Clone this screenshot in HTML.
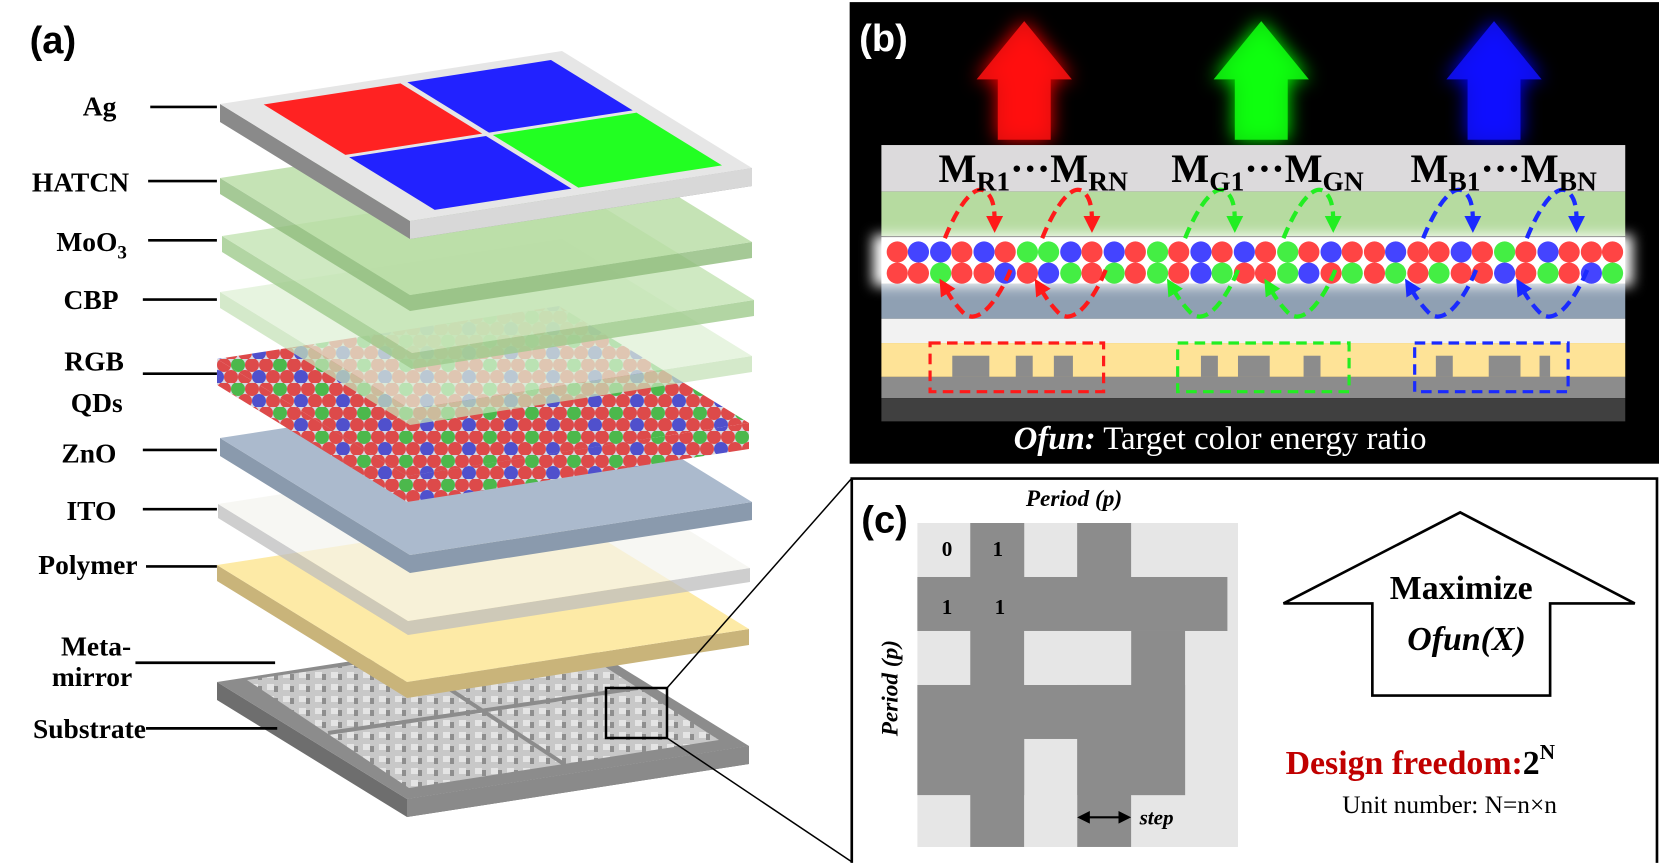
<!DOCTYPE html>
<html><head><meta charset="utf-8"><style>
html,body{margin:0;padding:0;background:#fff;}
svg{display:block;}
.lab{font-family:"Liberation Serif",serif;font-weight:bold;font-size:26px;fill:#000;}
</style></head><body>
<svg width="1659" height="866" viewBox="0 0 1659 866" xmlns="http://www.w3.org/2000/svg">
<defs>
<pattern id="qd" patternUnits="userSpaceOnUse" width="42" height="24">
<rect width="42" height="24" fill="#d8d8e0"/>
<circle cx="7" cy="6" r="7" fill="#dd4a4a"/><circle cx="21" cy="6" r="7" fill="#4cb84c"/><circle cx="35" cy="6" r="7" fill="#dd4a4a"/>
<circle cx="0" cy="18" r="7" fill="#5050cc"/><circle cx="14" cy="18" r="7" fill="#dd4a4a"/><circle cx="28" cy="18" r="7" fill="#dd4a4a"/><circle cx="42" cy="18" r="7" fill="#5050cc"/>
</pattern>
<pattern id="meta" patternUnits="userSpaceOnUse" width="16" height="12">
<rect width="16" height="12" fill="#c8c8c8"/><rect x="2" y="2" width="7" height="6" fill="#e4e4e4"/><rect x="9" y="4" width="4" height="6" fill="#8e8e8e"/>
</pattern>
<filter id="glow" x="-50%" y="-50%" width="200%" height="200%"><feGaussianBlur stdDeviation="9"/></filter>
<filter id="glow2" x="-10%" y="-80%" width="120%" height="260%"><feGaussianBlur stdDeviation="6"/></filter>
<marker id="ar" viewBox="0 0 10 10" refX="5" refY="5" markerWidth="4" markerHeight="4" orient="auto"><path d="M0,0L10,5L0,10z" fill="#ff1a1a"/></marker>
<marker id="ag" viewBox="0 0 10 10" refX="5" refY="5" markerWidth="4" markerHeight="4" orient="auto"><path d="M0,0L10,5L0,10z" fill="#22ee22"/></marker>
<marker id="ab" viewBox="0 0 10 10" refX="5" refY="5" markerWidth="4" markerHeight="4" orient="auto"><path d="M0,0L10,5L0,10z" fill="#1a2aff"/></marker>
<marker id="ak" viewBox="0 0 10 10" refX="5" refY="5" markerWidth="6" markerHeight="6" orient="auto-start-reverse"><path d="M0,0L10,5L0,10z" fill="#000"/></marker>
</defs>

<!-- substrate -->
<g transform="translate(217,682)">
<polygon points="0,0 190,117 532,64 532,82 190,135 0,18" fill="#6e6e6e"/>
<polygon points="190,117 532,64 532,82 190,135" fill="#8a8a8a"/>
<polygon points="0,0 342,-53 532,64 190,117" fill="#8c8c8c"/>
<polygon points="30,-2 340,-46 502,58 192,106" fill="url(#meta)"/>
<line x1="185" y1="-24" x2="347" y2="82" stroke="#8c8c8c" stroke-width="4"/>
<line x1="111" y1="51" x2="421" y2="6" stroke="#8c8c8c" stroke-width="4"/>
</g>
<!-- polymer -->
<g transform="translate(217,565)">
<polygon points="0,0 190,117 532,64 532,80 190,133 0,16" fill="#c9b47a"/>
<polygon points="0,0 342,-53 532,64 190,117" fill="#fdeaa6"/>
</g>
<!-- ITO -->
<g transform="translate(218,504)">
<polygon points="0,0 190,117 532,64 532,78 190,131 0,14" fill="#bdbdbd" opacity="0.75"/>
<polygon points="0,0 342,-53 532,64 190,117" fill="#f3f3ee" opacity="0.7"/>
</g>
<!-- ZnO -->
<g transform="translate(220,438)">
<polygon points="0,0 190,117 532,64 532,82 190,135 0,18" fill="#8a9aad"/>
<polygon points="0,0 342,-53 532,64 190,117" fill="#abbacd"/>
</g>
<!-- QDs -->
<g transform="translate(217,359)">
<polygon points="0,0 190,117 532,64 532,90 190,143 0,26" fill="url(#qd)"/>
<polygon points="0,0 342,-53 532,64 190,117" fill="url(#qd)"/>
</g>
<!-- CBP -->
<g transform="translate(220,292)">
<polygon points="0,0 190,117 532,64 532,80 190,133 0,16" fill="#c6e2b8" opacity="0.75"/>
<polygon points="0,0 342,-53 532,64 190,117" fill="#dff0d6" opacity="0.75"/>
</g>
<!-- MoO3 -->
<g transform="translate(222,236)">
<polygon points="0,0 190,117 532,64 532,80 190,133 0,16" fill="#9fcb8c" opacity="0.8"/>
<polygon points="0,0 342,-53 532,64 190,117" fill="#c3e3b3" opacity="0.8"/>
</g>
<!-- HATCN -->
<g transform="translate(220,178)">
<polygon points="0,0 190,117 532,64 532,80 190,133 0,16" fill="#8fbb7c" opacity="0.8"/>
<polygon points="0,0 342,-53 532,64 190,117" fill="#b6dca3" opacity="0.8"/>
</g>
<!-- Ag -->
<g transform="translate(220,104)">
<polygon points="0,0 190,117 532,64 532,82 190,135 0,18" fill="#8a8a8a"/>
<polygon points="190,117 532,64 532,82 190,135" fill="#d8d8d8"/>
<polygon points="0,0 342,-53 532,64 190,117" fill="#e6e6e6"/>
<g transform="matrix(342,-53,190,117,0,0)">
<rect x="0.1" y="0.05" width="0.4" height="0.43" fill="#ff2222"/>
<rect x="0.52" y="0.05" width="0.42" height="0.43" fill="#2222ff"/>
<rect x="0.1" y="0.5" width="0.4" height="0.45" fill="#2222ff"/>
<rect x="0.52" y="0.5" width="0.42" height="0.45" fill="#22ff22"/>
</g>
</g>
<!-- zoom box & lines -->
<rect x="606" y="688" width="61" height="50" fill="none" stroke="#000" stroke-width="2.5"/>
<line x1="667" y1="688" x2="852" y2="478" stroke="#000" stroke-width="1.5"/>
<line x1="667" y1="738" x2="852" y2="862" stroke="#000" stroke-width="1.5"/>

<g transform="scale(1.0581,1.0587)">
<text x="28" y="50" font-family="Liberation Sans,sans-serif" font-weight="bold" font-size="36">(a)</text>
<g class="lab" text-anchor="end">
<text x="110" y="109">Ag</text>
<text x="122" y="181">HATCN</text>
<text x="120" y="237">MoO<tspan font-size="18" dy="7">3</tspan></text>
<text x="112" y="292">CBP</text>
<text x="117" y="350">RGB</text>
<text x="116" y="389">QDs</text>
<text x="110" y="437">ZnO</text>
<text x="110" y="491">ITO</text>
<text x="130" y="542">Polymer</text>
<text x="124" y="619">Meta-</text>
<text x="125" y="648">mirror</text>
<text x="138" y="697">Substrate</text>
</g>
<g stroke="#000" stroke-width="2.5">
<line x1="142" y1="101" x2="205" y2="101"/>
<line x1="140" y1="171" x2="205" y2="171"/>
<line x1="140" y1="227" x2="205" y2="227"/>
<line x1="135" y1="283" x2="205" y2="283"/>
<line x1="135" y1="353" x2="205" y2="353"/>
<line x1="135" y1="425" x2="205" y2="425"/>
<line x1="135" y1="481" x2="205" y2="481"/>
<line x1="138" y1="535" x2="205" y2="535"/>
<line x1="128" y1="626" x2="260" y2="626"/>
<line x1="138" y1="688" x2="262" y2="688"/>
</g>

<!-- ===== Panel (b) ===== -->
<rect x="803" y="2" width="765" height="436" fill="#000"/>
<text x="812" y="48" font-family="Liberation Sans,sans-serif" font-weight="bold" font-size="36" fill="#fff">(b)</text>
<g>
<polygon points="923,75 968,20 1013,75 993,75 993,132 943,132 943,75" fill="#ff0000" filter="url(#glow)"/>
<polygon points="923,75 968,20 1013,75 993,75 993,132 943,132 943,75" fill="#ff1010" opacity="0.85"/>
<polygon points="1147,75 1192,20 1237,75 1217,75 1217,132 1167,132 1167,75" fill="#00ff00" filter="url(#glow)"/>
<polygon points="1147,75 1192,20 1237,75 1217,75 1217,132 1167,132 1167,75" fill="#10ff10" opacity="0.85"/>
<polygon points="1367,75 1412,20 1457,75 1437,75 1437,132 1387,132 1387,75" fill="#0000ff" filter="url(#glow)"/>
<polygon points="1367,75 1412,20 1457,75 1437,75 1437,132 1387,132 1387,75" fill="#1010ff" opacity="0.85"/>
</g>
<rect x="833" y="137" width="703" height="44" fill="#dcdadc"/>
<rect x="833" y="181" width="703" height="42" fill="#b6dba0"/>
<rect x="833" y="268" width="703" height="33" fill="#8fa0b3"/>
<rect x="833" y="301" width="703" height="23" fill="#f2f2f2"/>
<rect x="833" y="324" width="703" height="32" fill="#fee397"/>
<rect x="833" y="356" width="703" height="20" fill="#8c8c8c"/>
<rect x="833" y="376" width="703" height="22" fill="#404040"/>
<rect x="825" y="222" width="718" height="48" fill="#fff" filter="url(#glow2)"/>
<rect x="833" y="224" width="703" height="44" fill="#fff"/>
<g fill="#8c8c8c">
<rect x="900" y="336" width="35" height="20"/><rect x="960" y="336" width="16" height="20"/><rect x="996" y="336" width="18" height="20"/>
<rect x="1135" y="336" width="16" height="20"/><rect x="1170" y="336" width="30" height="20"/><rect x="1232" y="336" width="16" height="20"/>
<rect x="1357" y="336" width="16" height="20"/><rect x="1407" y="336" width="30" height="20"/><rect x="1455" y="336" width="10" height="20"/>
</g>
<g fill="none" stroke-width="3" stroke-dasharray="10,6">
<rect x="879" y="324" width="164" height="46" stroke="#ff1a1a"/>
<rect x="1113" y="324" width="162" height="46" stroke="#22ee22"/>
<rect x="1337" y="324" width="145" height="46" stroke="#1a2aff"/>
</g>
<g>
<circle cx="848" cy="238" r="10" fill="#ff4444"/><circle cx="868" cy="238" r="10" fill="#4444ff"/><circle cx="889" cy="238" r="10" fill="#4444ff"/><circle cx="909" cy="238" r="10" fill="#ff4444"/><circle cx="930" cy="238" r="10" fill="#4444ff"/><circle cx="950" cy="238" r="10" fill="#ff4444"/><circle cx="971" cy="238" r="10" fill="#44ee44"/><circle cx="991" cy="238" r="10" fill="#44ee44"/><circle cx="1012" cy="238" r="10" fill="#4444ff"/><circle cx="1032" cy="238" r="10" fill="#ff4444"/><circle cx="1053" cy="238" r="10" fill="#4444ff"/><circle cx="1073" cy="238" r="10" fill="#ff4444"/><circle cx="1094" cy="238" r="10" fill="#44ee44"/><circle cx="1114" cy="238" r="10" fill="#ff4444"/><circle cx="1135" cy="238" r="10" fill="#4444ff"/><circle cx="1155" cy="238" r="10" fill="#ff4444"/><circle cx="1176" cy="238" r="10" fill="#4444ff"/><circle cx="1196" cy="238" r="10" fill="#ff4444"/><circle cx="1217" cy="238" r="10" fill="#44ee44"/><circle cx="1237" cy="238" r="10" fill="#ff4444"/><circle cx="1258" cy="238" r="10" fill="#4444ff"/><circle cx="1278" cy="238" r="10" fill="#ff4444"/><circle cx="1299" cy="238" r="10" fill="#ff4444"/><circle cx="1319" cy="238" r="10" fill="#4444ff"/><circle cx="1340" cy="238" r="10" fill="#ff4444"/><circle cx="1360" cy="238" r="10" fill="#ff4444"/><circle cx="1381" cy="238" r="10" fill="#4444ff"/><circle cx="1401" cy="238" r="10" fill="#ff4444"/><circle cx="1422" cy="238" r="10" fill="#44ee44"/><circle cx="1442" cy="238" r="10" fill="#ff4444"/><circle cx="1463" cy="238" r="10" fill="#4444ff"/><circle cx="1483" cy="238" r="10" fill="#ff4444"/><circle cx="1504" cy="238" r="10" fill="#ff4444"/><circle cx="1524" cy="238" r="10" fill="#ff4444"/>
</g>
<g>
<circle cx="848" cy="258" r="10" fill="#ff4444"/><circle cx="868" cy="258" r="10" fill="#ff4444"/><circle cx="889" cy="258" r="10" fill="#44ee44"/><circle cx="909" cy="258" r="10" fill="#ff4444"/><circle cx="930" cy="258" r="10" fill="#ff4444"/><circle cx="950" cy="258" r="10" fill="#4444ff"/><circle cx="971" cy="258" r="10" fill="#ff4444"/><circle cx="991" cy="258" r="10" fill="#4444ff"/><circle cx="1012" cy="258" r="10" fill="#44ee44"/><circle cx="1032" cy="258" r="10" fill="#ff4444"/><circle cx="1053" cy="258" r="10" fill="#44ee44"/><circle cx="1073" cy="258" r="10" fill="#ff4444"/><circle cx="1094" cy="258" r="10" fill="#44ee44"/><circle cx="1114" cy="258" r="10" fill="#ff4444"/><circle cx="1135" cy="258" r="10" fill="#4444ff"/><circle cx="1155" cy="258" r="10" fill="#44ee44"/><circle cx="1176" cy="258" r="10" fill="#ff4444"/><circle cx="1196" cy="258" r="10" fill="#ff4444"/><circle cx="1217" cy="258" r="10" fill="#44ee44"/><circle cx="1237" cy="258" r="10" fill="#4444ff"/><circle cx="1258" cy="258" r="10" fill="#ff4444"/><circle cx="1278" cy="258" r="10" fill="#44ee44"/><circle cx="1299" cy="258" r="10" fill="#ff4444"/><circle cx="1319" cy="258" r="10" fill="#44ee44"/><circle cx="1340" cy="258" r="10" fill="#ff4444"/><circle cx="1360" cy="258" r="10" fill="#44ee44"/><circle cx="1381" cy="258" r="10" fill="#ff4444"/><circle cx="1401" cy="258" r="10" fill="#ff4444"/><circle cx="1422" cy="258" r="10" fill="#4444ff"/><circle cx="1442" cy="258" r="10" fill="#ff4444"/><circle cx="1463" cy="258" r="10" fill="#44ee44"/><circle cx="1483" cy="258" r="10" fill="#ff4444"/><circle cx="1504" cy="258" r="10" fill="#4444ff"/><circle cx="1524" cy="258" r="10" fill="#44ee44"/>
</g>
<g fill="none" stroke-width="4" stroke-dasharray="11,6">
<path d="M893,225 C905,195 920,175 930,180 C940,186 940,200 940,212" stroke="#ff1a1a" marker-end="url(#ar)"/>
<path d="M955,255 C945,280 925,310 910,295 C900,285 895,275 892,270" stroke="#ff1a1a" marker-end="url(#ar)"/>
<path d="M985,225 C997,195 1012,175 1022,180 C1032,186 1032,200 1032,212" stroke="#ff1a1a" marker-end="url(#ar)"/>
<path d="M1045,255 C1035,280 1015,310 1000,295 C990,285 985,275 982,270" stroke="#ff1a1a" marker-end="url(#ar)"/>
<path d="M1120,225 C1132,195 1147,175 1157,180 C1167,186 1167,200 1167,212" stroke="#22ee22" marker-end="url(#ag)"/>
<path d="M1170,255 C1160,280 1140,310 1125,295 C1115,285 1110,275 1107,270" stroke="#22ee22" marker-end="url(#ag)"/>
<path d="M1213,225 C1225,195 1240,175 1250,180 C1260,186 1260,200 1260,212" stroke="#22ee22" marker-end="url(#ag)"/>
<path d="M1262,255 C1252,280 1232,310 1217,295 C1207,285 1202,275 1199,270" stroke="#22ee22" marker-end="url(#ag)"/>
<path d="M1345,225 C1357,195 1372,175 1382,180 C1392,186 1392,200 1392,212" stroke="#1a2aff" marker-end="url(#ab)"/>
<path d="M1395,255 C1385,280 1365,310 1350,295 C1340,285 1335,275 1332,270" stroke="#1a2aff" marker-end="url(#ab)"/>
<path d="M1443,225 C1455,195 1470,175 1480,180 C1490,186 1490,200 1490,212" stroke="#1a2aff" marker-end="url(#ab)"/>
<path d="M1500,255 C1490,280 1470,310 1455,295 C1445,285 1440,275 1437,270" stroke="#1a2aff" marker-end="url(#ab)"/>
</g>
<g font-family="Liberation Serif,serif" font-weight="bold" font-size="38" fill="#000">
<text x="887" y="172">M<tspan font-size="26" dy="8">R1</tspan><tspan dy="-8">···</tspan>M<tspan font-size="26" dy="8">RN</tspan></text>
<text x="1107" y="172">M<tspan font-size="26" dy="8">G1</tspan><tspan dy="-8">···</tspan>M<tspan font-size="26" dy="8">GN</tspan></text>
<text x="1333" y="172">M<tspan font-size="26" dy="8">B1</tspan><tspan dy="-8">···</tspan>M<tspan font-size="26" dy="8">BN</tspan></text>
</g>
<text x="958" y="424" font-family="Liberation Serif,serif" font-size="31" fill="#fff"><tspan font-weight="bold" font-style="italic">Ofun:</tspan> Target color energy ratio</text>

<!-- ===== Panel (c) ===== -->
<polyline points="805,815 805,452 1566,452 1566,815" fill="none" stroke="#000" stroke-width="2.5"/>
<text x="814" y="503" font-family="Liberation Sans,sans-serif" font-weight="bold" font-size="36">(c)</text>
<rect x="867" y="494" width="303" height="306" fill="#e6e6e6"/>
<g fill="#8c8c8c">
<rect x="917" y="494" width="51" height="306"/>
<rect x="1018" y="494" width="51" height="306"/>
<rect x="867" y="545" width="293" height="51"/>
<rect x="1069" y="596" width="51" height="155"/>
<rect x="867" y="647" width="253" height="104"/>
</g>
<rect x="968" y="698" width="50" height="102" fill="#e6e6e6"/>
<rect x="968" y="596" width="101" height="51" fill="#e6e6e6"/>
<g font-family="Liberation Serif,serif" font-weight="bold" font-size="20" fill="#000">
<text x="890" y="525">0</text><text x="938" y="525">1</text>
<text x="890" y="580">1</text><text x="940" y="580">1</text>
</g>
<text x="1015" y="478" text-anchor="middle" font-family="Liberation Serif,serif" font-weight="bold" font-style="italic" font-size="22">Period (p)</text>
<text transform="translate(848,650) rotate(-90)" text-anchor="middle" font-family="Liberation Serif,serif" font-weight="bold" font-style="italic" font-size="22">Period (p)</text>
<line x1="1024" y1="772" x2="1063" y2="772" stroke="#000" stroke-width="2" marker-start="url(#ak)" marker-end="url(#ak)"/>
<text x="1077" y="779" font-family="Liberation Serif,serif" font-weight="bold" font-style="italic" font-size="20">step</text>
<polygon points="1213,570 1380,484 1545,570 1465,570 1465,657 1297,657 1297,570" fill="#fff" stroke="#000" stroke-width="2.5"/>
<text x="1381" y="566" text-anchor="middle" font-family="Liberation Serif,serif" font-weight="bold" font-size="32">Maximize</text>
<text x="1386" y="614" text-anchor="middle" font-family="Liberation Serif,serif" font-weight="bold" font-style="italic" font-size="32">Ofun(X)</text>
<text x="1215" y="731" font-family="Liberation Serif,serif" font-weight="bold" font-size="32" fill="#c00000">Design freedom:<tspan fill="#000">2</tspan><tspan fill="#000" font-size="20" dy="-14">N</tspan></text>
<text x="1370" y="768" text-anchor="middle" font-family="Liberation Serif,serif" font-size="24">Unit number: N=n×n</text>
</g>
</svg>
</body></html>
